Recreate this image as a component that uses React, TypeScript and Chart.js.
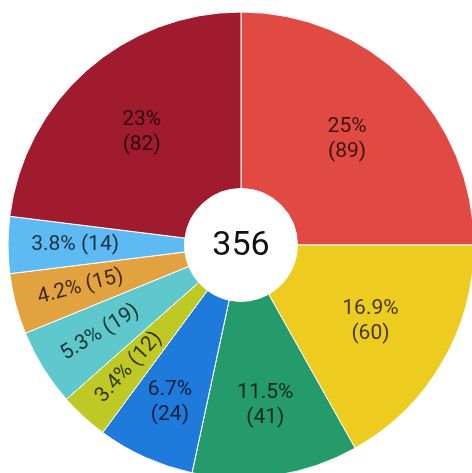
import React, { useEffect, useRef } from "react";
import { Chart, registerables } from "chart.js";

Chart.register(...registerables);

const labels = ["A", "B", "C", "D", "E", "F", "G", "H", "I"];
const values = [89, 60, 41, 24, 12, 19, 15, 14, 82];
const percentLabels = ["25%", "16.9%", "11.5%", "6.7%", "3.4%", "5.3%", "4.2%", "3.8%", "23%"];
const colors = [
  "#E14A42",
  "#EECB1F",
  "#259A6B",
  "#1F7BDB",
  "#BEC926",
  "#5EC8CC",
  "#E2A23F",
  "#5DBAF2",
  "#A11B2F",
];
const totalLabel = "356";

const labelPlugin = {
  id: "sliceLabels",
  afterDatasetsDraw(chart: any) {
    const ctx = chart.ctx;
    const meta = chart.getDatasetMeta(0);
    const total = values.reduce((a, b) => a + b, 0);
    ctx.save();
    ctx.fillStyle = "rgba(0,0,0,0.74)";
    ctx.textAlign = "center";
    ctx.textBaseline = "middle";
    ctx.font = "21px Roboto";
    meta.data.forEach((arc: any, i: number) => {
      const { x, y, startAngle, endAngle, innerRadius, outerRadius } = arc.getProps(
        ["x", "y", "startAngle", "endAngle", "innerRadius", "outerRadius"],
        true
      );
      const mid = (startAngle + endAngle) / 2;
      const frac = values[i] / total;
      let f = 0.53;
      if (frac < 0.06) f = 0.62;
      else if (frac < 0.1) f = 0.66;
      else if (frac < 0.15) f = 0.6;
      const r = innerRadius + (outerRadius - innerRadius) * f;
      const px = x + r * Math.cos(mid);
      const py = y + r * Math.sin(mid);
      if (frac < 0.06) {
        let rot = mid + Math.PI;
        while (rot > Math.PI) rot -= 2 * Math.PI;
        while (rot < -Math.PI) rot += 2 * Math.PI;
        if (rot > Math.PI / 2) rot -= Math.PI;
        if (rot < -Math.PI / 2) rot += Math.PI;
        ctx.save();
        ctx.translate(px, py);
        ctx.rotate(rot);
        ctx.fillText(`${percentLabels[i]} (${values[i]})`, 0, 0);
        ctx.restore();
      } else {
        ctx.fillText(percentLabels[i], px, py - 12.5);
        ctx.fillText(`(${values[i]})`, px, py + 12.5);
      }
    });
    const a0 = meta.data[0];
    ctx.fillStyle = "#111";
    ctx.font = "34px Roboto";
    ctx.fillText(totalLabel, a0.x, a0.y + 1);
    ctx.restore();
  },
};

export default function App() {
  const ref = useRef<HTMLCanvasElement | null>(null);
  useEffect(() => {
    if (!ref.current) return;
    const chart = new Chart(ref.current, {
      type: "doughnut",
      data: {
        labels,
        datasets: [
          {
            data: values,
            backgroundColor: colors,
            borderColor: "#ffffff",
            borderWidth: 1,
            hoverOffset: 0,
          },
        ],
      },
      options: {
        responsive: false,
        animation: false,
        devicePixelRatio: 1,
        radius: 233,
        cutout: 58,
        layout: { padding: 0 },
        plugins: {
          legend: { display: false },
          tooltip: { enabled: false },
        },
      } as any,
      plugins: [labelPlugin],
    });
    return () => chart.destroy();
  }, []);
  return (
    <div
      style={{
        position: "fixed",
        left: 0,
        top: 0,
        width: 472,
        height: 473,
        overflow: "hidden",
        background: "#fff",
      }}
    >
      <canvas
        ref={ref}
        width={480}
        height={480}
        style={{ position: "absolute", left: 1, top: 5, width: 480, height: 480 }}
      />
    </div>
  );
}
